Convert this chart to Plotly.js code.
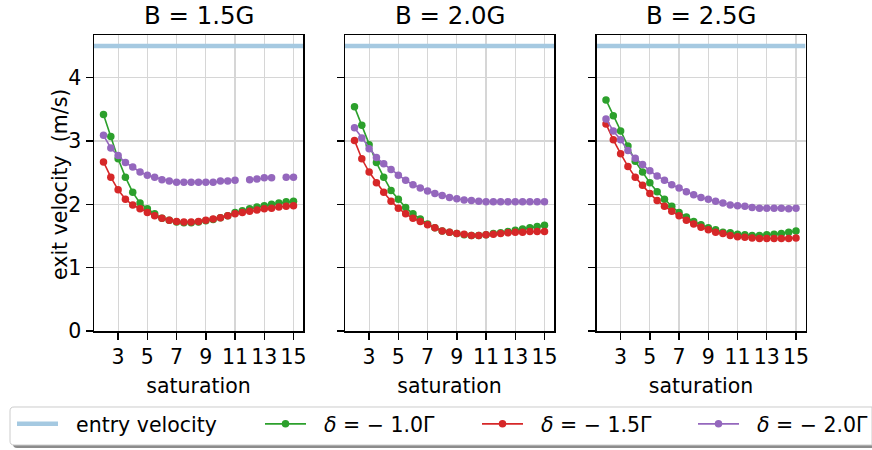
<!DOCTYPE html>
<html>
<head>
<meta charset="utf-8">
<script src="https://cdn.plot.ly/plotly-3.0.1.min.js"></script>
<style>html,body{margin:0;padding:0;background:#fff;overflow:hidden;}#chart{width:872px;height:450px;overflow:hidden;}</style>
</head>
<body>
<div id="chart"></div>
<script>
// ---- data ----
const saturation = [2, 2.5, 3, 3.5, 4, 4.5, 5, 5.5, 6, 6.5, 7, 7.5, 8, 8.5, 9, 9.5, 10, 10.5, 11, 11.5, 12, 12.5, 13, 13.5, 14, 14.5, 15];
const xTicks = [3, 5, 7, 9, 11, 13, 15];
const yTicks = [0, 1, 2, 3, 4];
const panelTitles = ["B = 1.5G", "B = 2.0G", "B = 2.5G"];
const xTitle = "saturation";
const yTitle = "exit velocity  (m/s)";
const entryVelocity = 4.5;
const entryX = [1.35, 15.65];

const green15 = [3.42, 3.07, 2.72, 2.43, 2.19, 2.02, 1.93, 1.85, 1.78, 1.75, 1.72, 1.71, 1.71, 1.72, 1.74, 1.76, 1.79, 1.82, 1.87, 1.90, 1.93, 1.96, 1.98, 2.00, 2.02, 2.04, 2.05];
const red15   = [2.67, 2.43, 2.23, 2.08, 1.99, 1.93, 1.87, 1.82, 1.78, 1.75, 1.73, 1.72, 1.72, 1.73, 1.75, 1.77, 1.79, 1.82, 1.85, 1.87, 1.89, 1.91, 1.93, 1.94, 1.96, 1.97, 1.98];
const purple15 = [3.09, 2.89, 2.77, 2.66, 2.59, 2.51, 2.46, 2.43, 2.39, 2.37, 2.35, 2.35, 2.35, 2.35, 2.35, 2.35, 2.37, 2.37, 2.38, null, 2.39, 2.40, 2.42, 2.42, null, 2.43, 2.43];

const green20 = [3.54, 3.25, 2.94, 2.66, 2.43, 2.22, 2.08, 1.95, 1.85, 1.77, 1.69, 1.63, 1.58, 1.56, 1.54, 1.52, 1.51, 1.51, 1.52, 1.54, 1.55, 1.57, 1.59, 1.61, 1.63, 1.65, 1.67];
const red20   = [3.01, 2.72, 2.51, 2.34, 2.19, 2.05, 1.94, 1.85, 1.78, 1.73, 1.68, 1.63, 1.58, 1.56, 1.54, 1.53, 1.51, 1.51, 1.52, 1.53, 1.54, 1.55, 1.56, 1.56, 1.57, 1.57, 1.57];
const purple20 = [3.21, 3.05, 2.88, 2.74, 2.64, 2.55, 2.46, 2.38, 2.31, 2.26, 2.21, 2.17, 2.14, 2.11, 2.09, 2.07, 2.06, 2.05, 2.04, 2.04, 2.04, 2.04, 2.04, 2.04, 2.04, 2.04, 2.04];

const green25 = [3.65, 3.40, 3.16, 2.92, 2.68, 2.51, 2.34, 2.20, 2.08, 1.97, 1.87, 1.80, 1.73, 1.68, 1.63, 1.60, 1.56, 1.55, 1.53, 1.52, 1.51, 1.51, 1.52, 1.53, 1.54, 1.56, 1.58];
const red25   = [3.27, 3.02, 2.80, 2.60, 2.43, 2.30, 2.17, 2.06, 1.97, 1.89, 1.82, 1.75, 1.69, 1.64, 1.60, 1.56, 1.54, 1.51, 1.49, 1.48, 1.47, 1.46, 1.46, 1.46, 1.46, 1.46, 1.47];
const purple25 = [3.35, 3.16, 3.02, 2.85, 2.73, 2.63, 2.53, 2.45, 2.38, 2.31, 2.26, 2.20, 2.15, 2.11, 2.08, 2.05, 2.02, 1.99, 1.98, 1.97, 1.95, 1.94, 1.94, 1.94, 1.94, 1.93, 1.94];

const seriesNames = ["entry velocity", "<i>δ</i> = − 1.0Γ", "<i>δ</i> = − 1.5Γ", "<i>δ</i> = − 2.0Γ"];
const panels = [
  [green15, red15, purple15],
  [green20, red20, purple20],
  [green25, red25, purple25]
];

// ---- style / layout ----
const W = 872, H = 450;
const px = v => v / W;
const py = v => 1 - v / H;
const colors = ["#a5c9e1", "#2ca02c", "#d62728", "#9467bd"];
const FONT = "DejaVu Sans";
const fs = 20.5;
const xDomains = [[94, 303], [345, 554], [596.5, 805.5]];
const yDomain = [py(331), py(35)];
const legendX = [12, 260, 477, 693];
const legendKeys = ["legend", "legend2", "legend3", "legend4"];

const traces = [];
panels.forEach((p, i) => {
  const xa = i === 0 ? "x" : "x" + (i + 1);
  const ya = i === 0 ? "y" : "y" + (i + 1);
  traces.push({
    x: entryX, y: [entryVelocity, entryVelocity], xaxis: xa, yaxis: ya,
    mode: "lines", line: {color: colors[0], width: 4.5},
    name: "\u00a0\u00a0" + seriesNames[0], legend: legendKeys[0], showlegend: i === 0, hoverinfo: "skip"
  });
  p.forEach((vals, k) => {
    traces.push({
      x: saturation, y: vals, xaxis: xa, yaxis: ya,
      mode: "lines+markers", connectgaps: false,
      line: {color: colors[k + 1], width: 1.6},
      marker: {color: colors[k + 1], size: 7.5},
      name: "\u00a0\u00a0" + seriesNames[k + 1], legend: legendKeys[k + 1], showlegend: i === 0
    });
  });
});

const layout = {
  width: W, height: H, autosize: false,
  margin: {l: 0, r: 0, t: 0, b: 0, autoexpand: false},
  paper_bgcolor: "#fff", plot_bgcolor: "#fff",
  font: {family: FONT, size: fs, color: "#000"},
  showlegend: true,
  annotations: [],
  shapes: []
};

for (let i = 0; i < 3; i++) {
  const sfx = i === 0 ? "" : String(i + 1);
  layout["xaxis" + sfx] = {
    domain: [px(xDomains[i][0]), px(xDomains[i][1])],
    anchor: "y" + sfx, range: entryX.slice(),
    tickmode: "array", tickvals: xTicks, ticktext: xTicks.map(String),
    ticks: "outside", ticklen: 7, tickwidth: 1.4, tickcolor: "#000",
    showline: true, mirror: true, linecolor: "#000", linewidth: 1.5,
    showgrid: true, gridcolor: "#d6d6d6", gridwidth: 1.2, zeroline: false,
    tickfont: {family: FONT, size: fs, color: "#000"},
    title: {text: xTitle, font: {family: FONT, size: fs, color: "#000"}, standoff: 10},
    automargin: false
  };
  layout["yaxis" + sfx] = {
    domain: yDomain, anchor: "x" + sfx, range: [0, 4.675],
    tickmode: "array", tickvals: yTicks, ticktext: yTicks.map(String),
    showticklabels: i === 0,
    ticks: "outside", ticklen: 7, tickwidth: 1.4, tickcolor: "#000",
    showline: true, mirror: true, linecolor: "#000", linewidth: 1.5,
    showgrid: true, gridcolor: "#d6d6d6", gridwidth: 1.2, zeroline: false,
    tickfont: {family: FONT, size: fs, color: "#000"},
    automargin: false
  };
  layout.annotations.push({
    text: panelTitles[i], xref: "paper", yref: "paper",
    x: (px(xDomains[i][0]) + px(xDomains[i][1])) / 2, y: py(15),
    xanchor: "center", yanchor: "middle", height: 26, valign: "middle", showarrow: false,
    font: {family: FONT, size: 24.4, color: "#000"}
  });
}
// y-axis title
layout.annotations.push({
  text: yTitle, xref: "paper", yref: "paper", x: px(60), y: py(185),
  xanchor: "center", yanchor: "middle", textangle: -90, showarrow: false,
  font: {family: FONT, size: fs, color: "#000"}
});

legendKeys.forEach((k, j) => {
  layout[k] = {
    x: px(legendX[j]), xanchor: "left", y: py(424), yanchor: "middle",
    orientation: "h", bgcolor: "rgba(0,0,0,0)", borderwidth: 0,
    itemwidth: 41, font: {family: FONT, size: fs, color: "#000"},
    itemclick: false, itemdoubleclick: false
  };
});

// legend frame with shadow (left corners rounded; right side runs off the figure)
function frame(x0, y0, x1, y1, r) {
  const X = v => px(v).toFixed(5), Y = v => py(v).toFixed(5);
  return `M${X(x0 + r)},${Y(y0)} L${X(x1)},${Y(y0)} L${X(x1)},${Y(y1)} L${X(x0 + r)},${Y(y1)} ` +
    `Q${X(x0)},${Y(y1)} ${X(x0)},${Y(y1 - r)} L${X(x0)},${Y(y0 + r)} Q${X(x0)},${Y(y0)} ${X(x0 + r)},${Y(y0)} Z`;
}
layout.shapes.push({type: "path", xref: "paper", yref: "paper", path: frame(13, 410, 872, 448, 4),
  fillcolor: "rgba(0,0,0,0.45)", line: {width: 0}, layer: "above"});
layout.shapes.push({type: "path", xref: "paper", yref: "paper", path: frame(10, 407, 872, 445, 4),
  fillcolor: "#ffffff", line: {color: "#cccccc", width: 1}, layer: "above"});

Plotly.newPlot("chart", traces, layout, {staticPlot: true, displayModeBar: false});
</script>
</body>
</html>
